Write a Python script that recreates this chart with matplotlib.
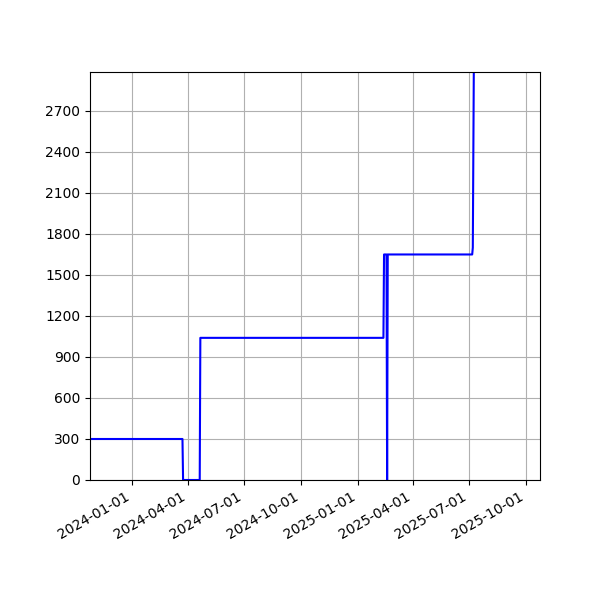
import matplotlib
matplotlib.use("Agg")
import matplotlib.pyplot as plt
import matplotlib.dates as mdates
from matplotlib.ticker import MultipleLocator
import pandas as pd

dates = ["2023-10-25", "2024-03-23", "2024-03-24", "2024-04-20", "2024-04-21",
         "2025-02-12", "2025-02-13", "2025-02-17", "2025-02-18", "2025-02-19",
         "2025-07-06", "2025-07-07", "2025-07-09"]
values = [300, 300, 0, 0, 1040,
          1040, 1650, 1650, 0, 1650,
          1650, 1700, 3300]

x = pd.to_datetime(dates)

fig = plt.figure(figsize=(6, 6), dpi=100)
ax = fig.add_subplot(111)
ax.plot(x, values, color="blue", linewidth=1.5)
ax.set_xlim(pd.Timestamp("2023-10-25"), pd.Timestamp("2025-10-24"))
ax.set_ylim(0, 2985)
ax.yaxis.set_major_locator(MultipleLocator(300))
ax.xaxis.set_major_locator(mdates.MonthLocator(bymonth=[1, 4, 7, 10]))
ax.xaxis.set_major_formatter(mdates.DateFormatter("%Y-%m-%d"))
ax.grid(True, color="#b0b0b0")
fig.autofmt_xdate()
fig.subplots_adjust(left=0.15, right=0.9, top=0.88, bottom=0.2)
fig.savefig("out.png")
